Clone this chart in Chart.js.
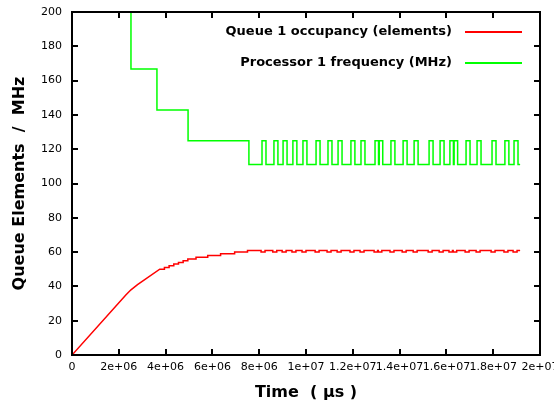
<!DOCTYPE html>
<html>
<head>
<meta charset="utf-8">
<script src="https://cdn.jsdelivr.net/npm/chart.js@4"></script>
<style>
  html, body { margin: 0; padding: 0; background: #fff; }
  canvas { display: block; }
</style>
</head>
<body>
<canvas id="chart" width="554" height="407"></canvas>
<script>
// Axis ticks
const xTicks = [0, 2e6, 4e6, 6e6, 8e6, 1e7, 1.2e7, 1.4e7, 1.6e7, 1.8e7, 2e7];
const xTickLabels = ['0', '2e+06', '4e+06', '6e+06', '8e+06', '1e+07', '1.2e+07', '1.4e+07', '1.6e+07', '1.8e+07', '2e+07'];
const yTicks = [0, 20, 40, 60, 80, 100, 120, 140, 160, 180, 200];
const yTickLabels = ['0', '20', '40', '60', '80', '100', '120', '140', '160', '180', '200'];

// Processor 1 frequency (MHz): initial DVFS levels (time in µs)
const freqLevelTimes  = [0, 2.52e6, 3.63e6, 4.96e6, 7.56e6];
const freqLevelValues = [200, 166.7, 142.9, 125, 111.1];
// Later the controller toggles between 111.1 and 125 MHz
const freqLow = 111.1;
const freqHigh = 125;
const freqHighStart = [8.12e6, 8.63e6, 9.02e6, 9.44e6, 9.87e6, 1.043e7, 1.094e7, 1.137e7, 1.192e7, 1.235e7,
                       1.295e7, 1.313e7, 1.363e7, 1.415e7, 1.462e7, 1.526e7, 1.573e7, 1.615e7, 1.633e7,
                       1.684e7, 1.731e7, 1.795e7, 1.850e7, 1.889e7];
const freqHighEnd   = [8.29e6, 8.80e6, 9.19e6, 9.61e6, 1.004e7, 1.060e7, 1.111e7, 1.154e7, 1.209e7, 1.252e7,
                       1.310e7, 1.328e7, 1.380e7, 1.432e7, 1.479e7, 1.543e7, 1.590e7, 1.630e7, 1.648e7,
                       1.701e7, 1.748e7, 1.812e7, 1.867e7, 1.906e7];
const simEnd = 1.915e7;

// Queue 1 occupancy (elements): fill-up ramp, then integer steps
const queueRampTimes  = [0, 2.3e6, 2.52e6, 2.8e6, 3.75e6];
const queueRampValues = [0, 35, 38, 41, 50];
const queueStepTimes  = [3.95e6, 4.15e6, 4.35e6, 4.55e6, 4.75e6, 4.95e6, 5.3e6, 5.8e6, 6.35e6, 6.95e6, 7.5e6];
const queueStepValues = [51, 52, 53, 54, 55, 56, 57, 58, 59, 60, 61];
// Steady state: 61 elements with short dips to 60
const queueSteady = 61;
const queueDip = 60;
const queueDipStart = [8.08e6, 8.58e6, 8.98e6, 9.40e6, 9.83e6, 1.039e7, 1.090e7, 1.133e7, 1.188e7, 1.231e7,
                       1.291e7, 1.309e7, 1.359e7, 1.411e7, 1.458e7, 1.522e7, 1.569e7, 1.611e7, 1.629e7,
                       1.680e7, 1.727e7, 1.791e7, 1.846e7, 1.885e7];
const queueDipEnd   = [8.25e6, 8.75e6, 9.15e6, 9.57e6, 1.000e7, 1.056e7, 1.107e7, 1.150e7, 1.205e7, 1.248e7,
                       1.306e7, 1.324e7, 1.376e7, 1.428e7, 1.475e7, 1.539e7, 1.586e7, 1.626e7, 1.644e7,
                       1.697e7, 1.744e7, 1.808e7, 1.863e7, 1.902e7];

// Build step-change point lists
function freqPoints() {
  const pts = freqLevelTimes.map((t, i) => ({ x: t, y: freqLevelValues[i] }));
  freqHighStart.forEach((s, i) => {
    pts.push({ x: s, y: freqHigh });
    pts.push({ x: freqHighEnd[i], y: freqLow });
  });
  pts.push({ x: simEnd, y: freqLow });
  return pts;
}

function queuePoints() {
  const pts = queueRampTimes.map((t, i) => ({ x: t, y: queueRampValues[i] }));
  let prev = queueRampValues[queueRampValues.length - 1];
  const step = (t, v) => { pts.push({ x: t, y: prev }); pts.push({ x: t, y: v }); prev = v; };
  queueStepTimes.forEach((t, i) => step(t, queueStepValues[i]));
  queueDipStart.forEach((s, i) => { step(s, queueDip); step(queueDipEnd[i], queueSteady); });
  pts.push({ x: simEnd, y: prev });
  return pts;
}

const FONT = "'DejaVu Sans', Verdana, sans-serif";

// Frame with inward ticks on all sides, and the key in the upper right
const framePlugin = {
  id: 'frame',
  afterDatasetsDraw(chart) {
    const { ctx, chartArea: a, scales: { x, y } } = chart;
    ctx.save();
    ctx.strokeStyle = '#000';
    ctx.lineWidth = 2;
    ctx.beginPath();
    x.ticks.forEach(t => {
      const px = Math.round(x.getPixelForValue(t.value));
      ctx.moveTo(px, a.bottom); ctx.lineTo(px, a.bottom - 6);
      ctx.moveTo(px, a.top); ctx.lineTo(px, a.top + 6);
    });
    y.ticks.forEach(t => {
      const py = Math.round(y.getPixelForValue(t.value));
      ctx.moveTo(a.left, py); ctx.lineTo(a.left + 6, py);
      ctx.moveTo(a.right, py); ctx.lineTo(a.right - 6, py);
    });
    ctx.stroke();
    ctx.strokeRect(a.left, a.top, a.right - a.left, a.bottom - a.top);

    ctx.font = 'bold 13px ' + FONT;
    ctx.textAlign = 'right';
    ctx.textBaseline = 'middle';
    ctx.fillStyle = '#000';
    chart.data.datasets.forEach((ds, i) => {
      const ty = 32 + i * 31;
      ctx.fillText(ds.label, 452, ty);
      ctx.strokeStyle = ds.borderColor;
      ctx.lineWidth = 2;
      ctx.beginPath();
      ctx.moveTo(465, ty); ctx.lineTo(522, ty);
      ctx.stroke();
    });
    ctx.restore();
  }
};

new Chart(document.getElementById('chart'), {
  type: 'line',
  data: {
    datasets: [
      {
        label: 'Queue 1 occupancy (elements)',
        data: queuePoints(),
        borderColor: '#ff0000',
        borderWidth: 1.5,
        pointRadius: 0,
        fill: false,
        tension: 0
      },
      {
        label: 'Processor 1 frequency (MHz)',
        data: freqPoints(),
        borderColor: '#00ff00',
        borderWidth: 1.5,
        pointRadius: 0,
        fill: false,
        stepped: 'before'
      }
    ]
  },
  options: {
    responsive: false,
    animation: false,
    devicePixelRatio: 1,
    layout: { padding: { top: 12, right: 14, left: 0, bottom: 0 } },
    plugins: { legend: { display: false }, tooltip: { enabled: false } },
    scales: {
      x: {
        type: 'linear',
        min: 0, max: 2e7,
        afterBuildTicks: s => { s.ticks = xTicks.map(v => ({ value: v })); },
        afterFit: s => { s.height = 52; s.paddingLeft = 0; s.paddingRight = 0; },
        ticks: {
          autoSkip: false, maxRotation: 0, padding: 6,
          color: '#000', font: { family: FONT, size: 11 },
          callback: (v, i) => xTickLabels[i]
        },
        grid: { display: false, drawTicks: false },
        border: { display: false },
        title: {
          display: true, text: 'Time  ( µs )', color: '#000',
          font: { family: FONT, size: 16, weight: 'bold' },
          padding: { top: 0, bottom: 5 }
        }
      },
      y: {
        type: 'linear',
        min: 0, max: 200,
        afterBuildTicks: s => { s.ticks = yTicks.map(v => ({ value: v })); },
        afterFit: s => { s.width = 72; s.paddingTop = 0; s.paddingBottom = 0; },
        ticks: {
          autoSkip: false, padding: 10,
          color: '#000', font: { family: FONT, size: 11 },
          callback: (v, i) => yTickLabels[i]
        },
        grid: { display: false, drawTicks: false },
        border: { display: false },
        title: {
          display: true, text: 'Queue Elements  /  MHz', color: '#000',
          font: { family: FONT, size: 16, weight: 'bold' },
          padding: { top: 10, bottom: 0 }
        }
      }
    }
  },
  plugins: [framePlugin]
});
</script>
</body>
</html>
